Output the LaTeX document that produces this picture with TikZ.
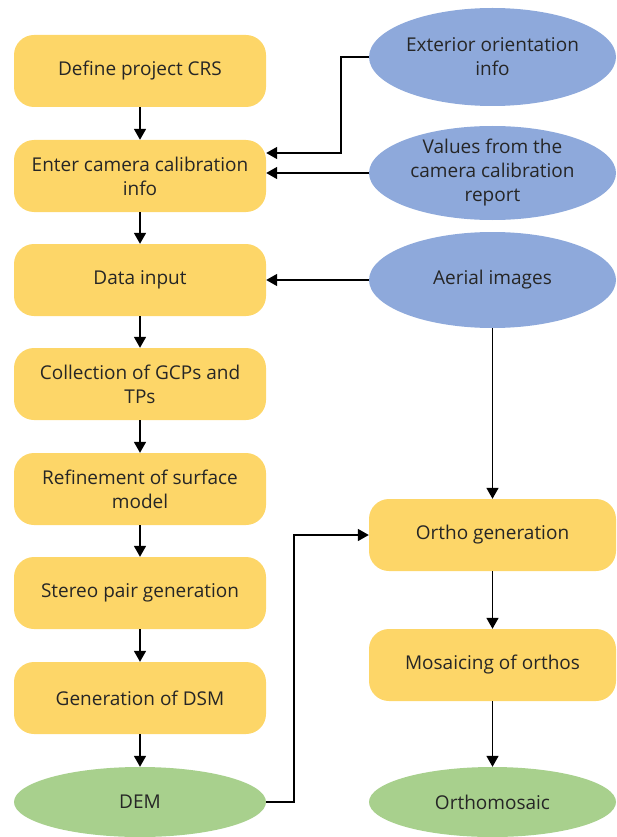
\documentclass[tikz,border=0pt]{standalone}
\usepackage{fontspec}
\setmainfont{Open Sans}
\usetikzlibrary{shapes.geometric,arrows.meta}
\definecolor{boxyellow}{HTML}{FDD668}
\definecolor{ellblue}{HTML}{8EA9DB}
\definecolor{ellgreen}{HTML}{A8D08D}
\definecolor{txt}{HTML}{262626}
\tikzset{
  lbl/.style={align=center, text=txt, font=\fontsize{19}{24}\selectfont},
  stepbox/.style={lbl, rectangle, rounded corners=20pt, fill=boxyellow, minimum width=252pt, minimum height=72pt, inner sep=0pt},
  rstepbox/.style={stepbox, minimum width=247pt},
  inell/.style={lbl, ellipse, fill=ellblue, minimum width=247pt, inner sep=-12pt},
  outell/.style={lbl, ellipse, fill=ellgreen, minimum height=70pt, inner sep=-12pt},
  arr/.style={-{Triangle[width=12pt,length=11pt]}, line width=1.6pt, black},
}
\begin{document}
\begin{tikzpicture}[x=1pt,y=-1pt]
\useasboundingbox (0,0) rectangle (616,837);
\node[stepbox] (define) at (140,71) {Define project CRS};
\node[stepbox] (enter) at (140,176) {Enter camera calibration\\info};
\node[stepbox] (data) at (140,280) {Data input};
\node[stepbox] (coll) at (140,384) {Collection of GCPs and\\TPs};
\node[stepbox] (refine) at (140,489) {Refinement of surface\\model};
\node[stepbox] (stereo) at (140,593) {Stereo pair generation};
\node[stepbox] (dsm) at (140,698) {Generation of DSM};
\node[outell, minimum width=252pt] (dem) at (140,802) {DEM};
\node[inell, minimum height=98pt] (ext) at (492.5,57) {Exterior orientation\\info};
\node[inell, minimum height=94pt] (values) at (492.5,173) {Values from the\\camera calibration\\report};
\node[inell, minimum height=96pt] (aerial) at (492.5,280) {Aerial images};
\node[rstepbox] (ortho) at (492.5,535) {Ortho generation};
\node[rstepbox] (mosaic) at (492.5,665) {Mosaicing of orthos};
\node[outell, minimum width=247pt] (omosaic) at (492.5,802) {Orthomosaic};
\draw[arr] (define) -- (enter);
\draw[arr] (enter) -- (data);
\draw[arr] (data) -- (coll);
\draw[arr] (coll) -- (refine);
\draw[arr] (refine) -- (stereo);
\draw[arr] (stereo) -- (dsm);
\draw[arr] (dsm) -- (dem);
\draw[arr] (ext.west) -- ++(-28,0) |- ([yshift=23pt]enter.east);
\draw[arr] (values.west) -- (values.west -| enter.east);
\draw[arr] (aerial.west) -- (data.east);
\draw[arr] (aerial.south) -- (ortho.north);
\draw[arr] (dem.east) -- ++(28,0) |- (ortho.west);
\draw[arr] (ortho) -- (mosaic);
\draw[arr] (mosaic) -- (omosaic);
\end{tikzpicture}
\end{document}
